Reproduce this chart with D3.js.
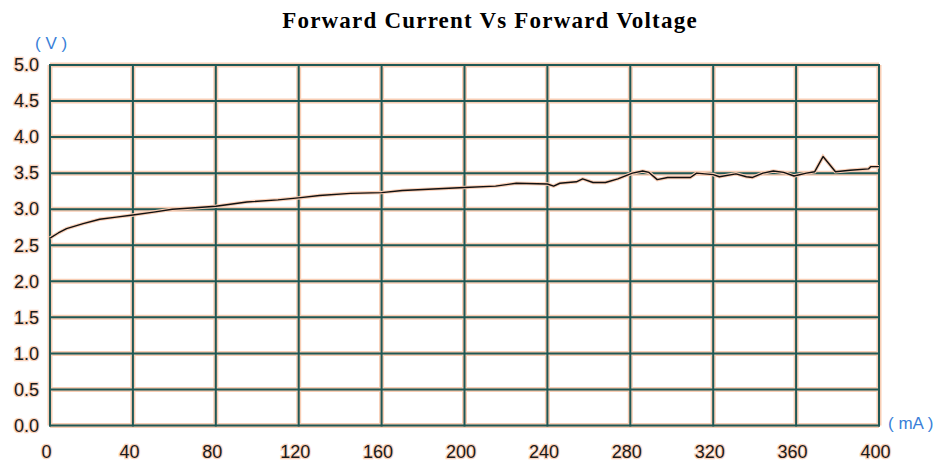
<!DOCTYPE html>
<html>
<head>
<meta charset="utf-8">
<script src="https://cdn.jsdelivr.net/npm/d3@7"></script>
<style>
  html, body { margin: 0; padding: 0; background: #fff; }
  svg { display: block; }
</style>
</head>
<body>
<svg id="chart" width="941" height="461"></svg>
<script>
const title = "Forward Current Vs Forward Voltage";
const xTicks = [0, 40, 80, 120, 160, 200, 240, 280, 320, 360, 400];
const yTicks = [0, 0.5, 1.0, 1.5, 2.0, 2.5, 3.0, 3.5, 4.0, 4.5, 5.0];
const xTickLabels = ["0", "40", "80", "120", "160", "200", "240", "280", "320", "360", "400"];
const yTickLabels = ["0.0", "0.5", "1.0", "1.5", "2.0", "2.5", "3.0", "3.5", "4.0", "4.5", "5.0"];
const current = [0,4,8,16,24,32,40,50,59,70,80,95,110,121,130,145,160,170,185,200,215,225,240,243,246,254,257,262,268,274,281,286,289,293,298,309,312,320,323,331,336,339,344,349,354,359,365,369,373,379,386,395,396,400];
const voltage = [2.60,2.67,2.73,2.80,2.86,2.89,2.92,2.96,3.00,3.02,3.04,3.10,3.13,3.16,3.19,3.22,3.23,3.26,3.28,3.30,3.32,3.36,3.35,3.32,3.36,3.38,3.42,3.37,3.37,3.42,3.50,3.53,3.51,3.41,3.44,3.44,3.50,3.48,3.45,3.49,3.45,3.44,3.50,3.53,3.51,3.46,3.50,3.52,3.73,3.52,3.54,3.56,3.59,3.59];

const svg = d3.select("#chart");
const x = d3.scaleLinear().domain([0, 400]).range([50, 879]);
const y = d3.scaleLinear().domain([0, 5]).range([425.5, 65]);

const gridColor = "#1f5855";
const haloColor = "#f8cdb4";

// halos
const halo = svg.append("g");
halo.selectAll(".hx").data(xTicks).join("line")
  .attr("x1", d => x(d)).attr("x2", d => x(d))
  .attr("y1", y(5)).attr("y2", y(0))
  .attr("stroke", haloColor).attr("stroke-width", 5);
halo.selectAll(".hy").data(yTicks).join("line")
  .attr("y1", d => y(d)).attr("y2", d => y(d))
  .attr("x1", x(0)).attr("x2", x(400))
  .attr("stroke", haloColor).attr("stroke-width", 5);

// grid
const grid = svg.append("g");
grid.selectAll(".gx").data(xTicks).join("line")
  .attr("x1", d => x(d)).attr("x2", d => x(d))
  .attr("y1", y(5) - 1).attr("y2", y(0) + 1)
  .attr("stroke", gridColor).attr("stroke-width", 2);
grid.selectAll(".gy").data(yTicks).join("line")
  .attr("y1", d => y(d)).attr("y2", d => y(d))
  .attr("x1", x(0) - 1).attr("x2", x(400) + 1)
  .attr("stroke", gridColor).attr("stroke-width", 2);

// axes labels via d3 axes (no domain, no tick lines)
const xAxis = svg.append("g")
  .attr("transform", `translate(-4, ${y(0)})`)
  .call(d3.axisBottom(x).tickValues(xTicks).tickFormat((d, i) => xTickLabels[i]).tickSize(0).tickPadding(20));
const yAxis = svg.append("g")
  .attr("transform", `translate(${x(0) - 1}, 0)`)
  .call(d3.axisLeft(y).tickValues(yTicks).tickFormat((d, i) => yTickLabels[i]).tickSize(0).tickPadding(10));
[xAxis, yAxis].forEach(g => {
  g.select(".domain").remove();
  g.selectAll("text")
    .attr("font-family", "'Liberation Sans', Arial, sans-serif")
    .attr("font-size", 18)
    .attr("fill", "#1a1a1a")
    .attr("stroke", "#f9d3bd").attr("stroke-width", 2.5)
    .attr("paint-order", "stroke");
});

// line
const line = d3.line().x((d, i) => x(current[i])).y((d, i) => y(voltage[i]));
svg.append("path").datum(voltage)
  .attr("d", line).attr("fill", "none")
  .attr("stroke", haloColor).attr("stroke-width", 3.5);
svg.append("path").datum(voltage)
  .attr("d", line).attr("fill", "none")
  .attr("stroke", "#111").attr("stroke-width", 1.4).attr("stroke-linejoin", "round");

// unit labels
svg.append("text").attr("x", 35).attr("y", 49)
  .attr("font-family", "'Liberation Sans', Arial, sans-serif").attr("font-size", 17)
  .attr("fill", "#3a7fd8").attr("xml:space", "preserve").text("( V )");
svg.append("text").attr("x", 888).attr("y", 429)
  .attr("font-family", "'Liberation Sans', Arial, sans-serif").attr("font-size", 17)
  .attr("fill", "#3a7fd8").attr("xml:space", "preserve").text("( mA )");

// title
svg.append("text").attr("x", 490).attr("y", 28)
  .attr("text-anchor", "middle")
  .attr("font-family", "'Liberation Serif', 'Times New Roman', serif")
  .attr("font-weight", "bold").attr("font-size", 23)
  .attr("letter-spacing", 1.2)
  .attr("fill", "#000").text(title);
</script>
</body>
</html>
